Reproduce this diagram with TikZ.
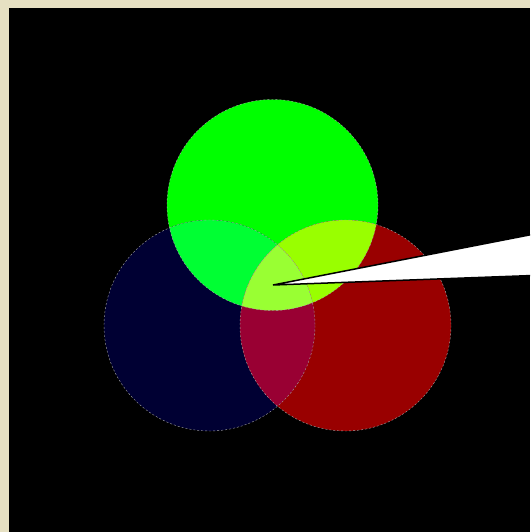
\documentclass[tikz,border=0pt]{standalone}
\definecolor{beige}{RGB}{230,224,194}
\definecolor{cg}{RGB}{0,255,0}
\definecolor{cb}{RGB}{0,0,51}
\definecolor{cr}{RGB}{153,0,0}
\definecolor{cgb}{RGB}{0,255,51}
\definecolor{cgr}{RGB}{153,255,0}
\definecolor{cbr}{RGB}{153,0,51}
\definecolor{call}{RGB}{153,255,51}
\tikzset{rim/.style={draw=gray!70,line width=0.4pt,dash pattern=on 2pt off 2pt}}
\begin{document}
\begin{tikzpicture}[x=1pt,y=-1pt]
\useasboundingbox (0,0) rectangle (530,532);
\fill[beige] (0,0) rectangle (530,532);
\fill[black] (9,8) rectangle (530,532);
\coordinate (G) at (272.5,205);
\coordinate (B) at (209.5,325.5);
\coordinate (R) at (345.5,325.5);
\def\rr{105.5}
\fill[cg] (G) circle (\rr);
\fill[cb] (B) circle (\rr);
\fill[cr] (R) circle (\rr);
\begin{scope}\clip (G) circle (\rr); \fill[cgb] (B) circle (\rr); \end{scope}
\begin{scope}\clip (G) circle (\rr); \fill[cgr] (R) circle (\rr); \end{scope}
\begin{scope}\clip (B) circle (\rr); \fill[cbr] (R) circle (\rr); \end{scope}
\begin{scope}\clip (G) circle (\rr); \clip (B) circle (\rr); \fill[call] (R) circle (\rr); \end{scope}
\draw[rim] (G) circle (\rr);
\draw[rim] (B) circle (\rr);
\draw[rim] (R) circle (\rr);
\begin{scope}
\clip (9,8) rectangle (530,532);
\coordinate (T) at (273,285);
\coordinate (U) at (560,229);
\coordinate (L) at (560,274.5);
\filldraw[fill=white,draw=black,line width=1.5pt,line join=miter] (T) -- (U) -- (L) -- cycle;
\end{scope}
\end{tikzpicture}
\end{document}
